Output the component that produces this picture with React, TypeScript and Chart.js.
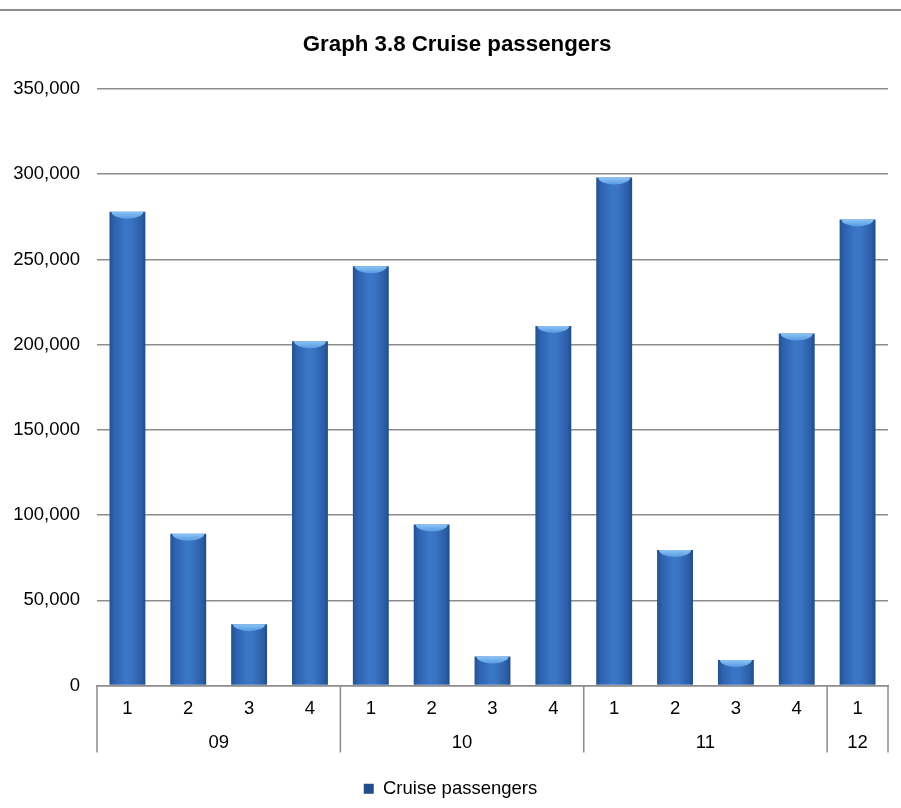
import React, { useEffect, useRef } from "react";
import { Chart, registerables } from "chart.js";

Chart.register(...registerables);

const quarters = ["1", "2", "3", "4", "1", "2", "3", "4", "1", "2", "3", "4", "1"];
const years = ["09", "10", "11", "12"];
const yearSpans = [4, 4, 4, 1];
const passengers = [278000, 89000, 36000, 202000, 246000, 94500, 17000, 211000, 298000, 79500, 15000, 206500, 273500];
const yTicks = [0, 50000, 100000, 150000, 200000, 250000, 300000, 350000];
const seriesName = "Cruise passengers";
const titleText = "Graph 3.8 Cruise passengers";

const FONT = "'Liberation Sans', Arial, sans-serif";
const BAR_PCT = 0.59;

const decorPlugin = {
  id: "decor",
  beforeDraw(chart: any) {
    const ctx = chart.ctx;
    ctx.save();
    ctx.strokeStyle = "#8c8c8c";
    ctx.lineWidth = 2;
    ctx.beginPath();
    ctx.moveTo(0, 10);
    ctx.lineTo(chart.width, 10);
    ctx.stroke();
    ctx.fillStyle = "#000";
    ctx.font = "bold 22.3px " + FONT;
    ctx.textAlign = "center";
    ctx.textBaseline = "middle";
    ctx.fillText(titleText, 457, 45);
    ctx.restore();
  },
  afterDatasetsDraw(chart: any) {
    const ctx = chart.ctx;
    const meta = chart.getDatasetMeta(0);
    ctx.save();
    meta.data.forEach((bar: any) => {
      const { x, y, width, base } = bar.getProps(["x", "y", "width", "base"], true);
      const l = x - width / 2;
      ctx.save();
      ctx.beginPath();
      ctx.rect(l, y, width, base - y);
      ctx.clip();
      const g = ctx.createLinearGradient(0, y, 0, y + 8);
      g.addColorStop(0, "#8cc4f4");
      g.addColorStop(1, "#4f95e0");
      ctx.fillStyle = g;
      ctx.beginPath();
      ctx.ellipse(x, y, width / 2 - 2, 7, 0, 0, Math.PI * 2);
      ctx.fill();
      ctx.restore();
    });
    ctx.restore();
  },
  afterDraw(chart: any) {
    const ctx = chart.ctx;
    const xs = chart.scales.x;
    const area = chart.chartArea;
    const n = quarters.length;
    const cw = (area.right - area.left) / n;
    ctx.save();
    ctx.strokeStyle = "#8c8c8c";
    ctx.lineWidth = 1.5;
    let idx = 0;
    const bounds = [0];
    yearSpans.forEach((s) => {
      idx += s;
      bounds.push(idx);
    });
    bounds.forEach((b) => {
      const px = xs.getPixelForValue(0) - cw / 2 + b * cw;
      ctx.beginPath();
      ctx.moveTo(px, area.bottom);
      ctx.lineTo(px, area.bottom + 67);
      ctx.stroke();
    });
    ctx.fillStyle = "#000";
    ctx.font = "18.5px " + FONT;
    ctx.textAlign = "center";
    ctx.textBaseline = "middle";
    years.forEach((yr, i) => {
      const a = bounds[i];
      const b = bounds[i + 1];
      const cx = (xs.getPixelForValue(a) + xs.getPixelForValue(b - 1)) / 2;
      ctx.fillText(yr, cx, area.bottom + 57);
    });
    ctx.restore();
  },
};

export default function App() {
  const ref = useRef<HTMLCanvasElement>(null);
  useEffect(() => {
    document.body.style.margin = "0";
    const canvas = ref.current!;
    const chart = new Chart(canvas, {
      type: "bar",
      data: {
        labels: quarters,
        datasets: [
          {
            label: seriesName,
            data: passengers,
            barPercentage: BAR_PCT,
            categoryPercentage: 1,
            borderWidth: 0,
            backgroundColor: (c: any) => {
              const ch = c.chart;
              const xs = ch.scales && ch.scales.x;
              if (c.type !== "data" || !xs || !ch.chartArea) return "#3a6fc0";
              const cx = xs.getPixelForValue(c.dataIndex);
              const w = ((ch.chartArea.right - ch.chartArea.left) / quarters.length) * BAR_PCT;
              const g = ch.ctx.createLinearGradient(cx - w / 2, 0, cx + w / 2, 0);
              g.addColorStop(0, "#24508f");
              g.addColorStop(0.12, "#2d61ad");
              g.addColorStop(0.45, "#3b77c7");
              g.addColorStop(0.6, "#3a74c2");
              g.addColorStop(0.88, "#2c5ea8");
              g.addColorStop(1, "#234c88");
              return g;
            },
          },
        ],
      },
      options: {
        responsive: false,
        animation: false,
        devicePixelRatio: 1,
        layout: { padding: { left: 13, right: 13, top: 89, bottom: 0 } },
        plugins: {
          title: { display: false },
          tooltip: { enabled: false },
          legend: {
            display: true,
            position: "bottom",
            labels: {
              font: { family: FONT, size: 18.5 },
              color: "#000",
              boxWidth: 10,
              boxHeight: 10,
              padding: 4,
            },
          },
        },
        scales: {
          x: {
            grid: { display: false, drawTicks: false },
            border: { display: true, color: "#8c8c8c", width: 1.5 },
            ticks: {
              font: { family: FONT, size: 18.5 },
              color: "#000",
              padding: 12,
              maxRotation: 0,
              autoSkip: false,
            },
            afterFit: (s: any) => {
              s.height = 90;
            },
          },
          y: {
            min: 0,
            max: 350000,
            afterBuildTicks: (s: any) => {
              s.ticks = yTicks.map((v) => ({ value: v }));
            },
            grid: { color: "#8c8c8c", lineWidth: 1.5, drawTicks: false },
            border: { display: false },
            ticks: {
              font: { family: FONT, size: 18.5 },
              color: "#000",
              padding: 17,
              callback: (v: any) => Number(v).toLocaleString("en-US"),
            },
            afterFit: (s: any) => {
              s.width = 84;
            },
          },
        },
      },
      plugins: [decorPlugin],
    });
    return () => chart.destroy();
  }, []);
  return <canvas ref={ref} width={901} height={808} style={{ display: "block" }} />;
}
